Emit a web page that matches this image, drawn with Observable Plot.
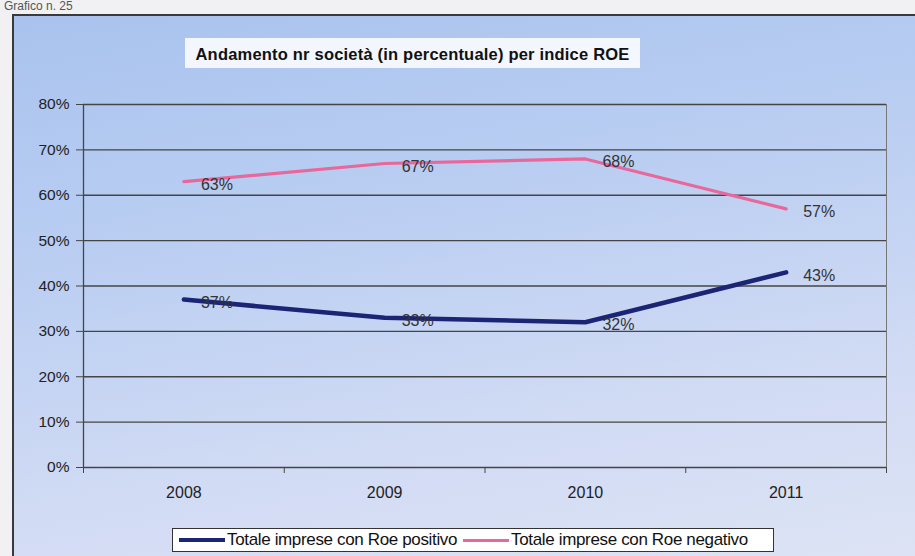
<!DOCTYPE html>
<html><head><meta charset="utf-8">
<script src="https://cdn.jsdelivr.net/npm/d3@7"></script>
<script src="https://cdn.jsdelivr.net/npm/@observablehq/plot@0.6"></script>
<style>
html,body{margin:0;padding:0;}
#page{position:relative;width:915px;height:556px;overflow:hidden;background:#f1f1f3;font-family:"Liberation Sans",Arial,sans-serif;}
#doc{position:absolute;left:4px;top:0px;font-size:12px;line-height:13px;color:#555;}
#frame{position:absolute;left:12px;top:14px;width:920px;height:560px;border:2px solid #3a3a3a;box-sizing:border-box;
 background:linear-gradient(170deg,#a9c3ee 0%,#bacef2 35%,#d1dbf4 70%,#dee4f5 100%);}
#title{position:absolute;left:185px;top:38px;width:455px;height:30px;background:rgba(255,255,255,0.85);
 font-weight:bold;font-size:16.5px;color:#111;text-align:center;line-height:32px;letter-spacing:0.2px;}
#chart{position:absolute;left:0;top:0;}
#legend{position:absolute;left:172px;top:528px;width:602px;height:24px;background:#fff;border:1.5px solid #333;box-sizing:border-box;
 display:flex;align-items:center;font-size:17px;color:#111;letter-spacing:-0.35px;white-space:nowrap;}
.sw{display:inline-block;width:46px;height:4px;margin:0 2px 0 6px;}
</style></head>
<body>
<div id="page">
 <div id="doc">Grafico n. 25</div>
 <div id="frame"></div>
 <div id="title">Andamento nr società (in percentuale) per indice ROE</div>
 <div id="chart"></div>
 <div id="legend"><span class="sw" style="background:#1c2575"></span><span>Totale imprese con Roe positivo</span><span class="sw" style="background:#e8689c;height:3px;margin-left:6px"></span><span>Totale imprese con Roe negativo</span></div>
</div>
<script>
const years = [2008, 2009, 2010, 2011];
const positivo = [0.37, 0.33, 0.32, 0.43];
const negativo = [0.63, 0.67, 0.68, 0.57];
const yTicks = [0, 0.1, 0.2, 0.3, 0.4, 0.5, 0.6, 0.7, 0.8];
const seriesNames = ["Totale imprese con Roe positivo", "Totale imprese con Roe negativo"];

const posData = years.map((y, i) => ({year: y, v: positivo[i]}));
const negData = years.map((y, i) => ({year: y, v: negativo[i]}));
const bounds = [years[0] - 0.5, ...years.map(y => y + 0.5)];
const pct = d => Math.round(d * 100) + "%";

const chart = Plot.plot({
  width: 915, height: 510,
  marginLeft: 83, marginRight: 29, marginTop: 104, marginBottom: 43,
  x: {domain: [bounds[0], bounds[bounds.length - 1]]},
  y: {domain: [0, 0.8]},
  style: {background: "transparent", fontFamily: "'Liberation Sans', Arial, sans-serif", fontSize: "15px", color: "#222"},
  marks: [
    Plot.ruleY(yTicks, {stroke: "#454545", strokeWidth: 1.3}),
    Plot.ruleX([bounds[0]], {stroke: "#454545", strokeWidth: 1.3}),
    Plot.ruleX([bounds[bounds.length - 1]], {stroke: "#777", strokeWidth: 1}),
    Plot.axisY({ticks: yTicks, tickFormat: pct, tickSize: 7, tickPadding: 7, label: null, stroke: "#454545", fontSize: 15.5}),
    Plot.axisX({ticks: years, tickFormat: d => String(d), tickSize: 0, tickPadding: 19, label: null, fontSize: 16}),
    Plot.axisX({ticks: bounds, tickFormat: () => "", tickSize: 6, label: null, stroke: "#454545"}),
    Plot.line(negData, {x: "year", y: "v", stroke: "#e8689c", strokeWidth: 3.2, strokeLinejoin: "round", strokeLinecap: "round"}),
    Plot.line(posData, {x: "year", y: "v", stroke: "#1c2575", strokeWidth: 4.5, strokeLinejoin: "round", strokeLinecap: "round"}),
    Plot.text(negData, {x: "year", y: "v", text: d => pct(d.v), dx: 17, dy: 3, textAnchor: "start", fill: "#333", fontSize: 16}),
    Plot.text(posData, {x: "year", y: "v", text: d => pct(d.v), dx: 17, dy: 3, textAnchor: "start", fill: "#333", fontSize: 16})
  ]
});
document.getElementById("chart").appendChild(chart);
</script>
</body></html>
